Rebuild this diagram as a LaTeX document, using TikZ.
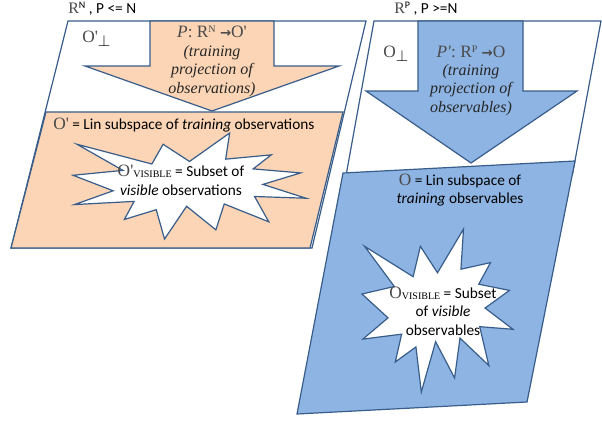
\documentclass[tikz,border=0pt]{standalone}
\usepackage{fontspec}
\setmainfont{Carlito}
\newfontfamily\tms{Liberation Serif}
\newfontfamily\tmsit{Liberation Serif Italic}
\newfontfamily\djv{DejaVu Sans}
\definecolor{peach}{HTML}{FBD5B5}
\definecolor{sky}{HTML}{8EB4E3}
\definecolor{edgeblue}{HTML}{385D8A}
\definecolor{symgray}{HTML}{4A4A4A}
\newcommand\arr{{\djv\bfseries\fontsize{10}{10}\selectfont →}}
\newcommand\supr[1]{\raisebox{3.6pt}{\fontsize{7.5}{8}\selectfont #1}}
\newcommand\vis{\raisebox{-0.8pt}{\tms\fontsize{7.5}{8}\selectfont VISIBLE}}
\newcommand\tO[1]{{\tms\color{symgray}\fontsize{13}{14}\selectfont #1}}
\newcommand\itl[1]{{\tms\itshape\fontsize{12}{13.8}\selectfont #1}}
\begin{document}
\begin{tikzpicture}[x=0.75pt,y=-0.75pt,
  shapeline/.style={draw=edgeblue,line width=0.9pt,line join=miter},
  lbl/.style={inner sep=0pt,font=\fontsize{11.5}{14}\selectfont,align=center},
  ital/.style={inner sep=0pt,font=\fontsize{12}{13.8}\selectfont,align=center,text=black!85}]
\useasboundingbox (0,0) rectangle (602,421);
% ---------- left panel ----------
\draw[shapeline,fill=white] (68,21) -- (366,21) -- (312,248) -- (11,248) -- cycle;
\draw[shapeline,fill=peach] (46,112) -- (343,112) -- (310,248) -- (11,248) -- cycle;
\draw[shapeline,fill=peach] (150,21) -- (274,21) -- (274,66) -- (339,66) -- (212,111) -- (85,66) -- (150,66) -- cycle;
\begin{scope}[shift={(73,133)},xscale=1.0787,yscale=0.4907]
\draw[shapeline,fill=white] (108,58) -- (145.22,0) -- (141.55,53.25) -- (183.80,44.57) -- (167.02,73.15) -- (210.97,81.37) -- (176.07,104.75) -- (216,132.90) -- (168.37,129.42) -- (181.45,180.95) -- (140.20,144.57) -- (132.47,197.37) -- (105.32,149.35) -- (84.85,216) -- (77.15,156.27) -- (47.62,176.17) -- (56.67,139.37) -- (1.35,145.87) -- (37.22,117.75) -- (0,86.15) -- (46.27,76.17) -- (3.70,22.95) -- (73.12,63.20) -- (83.52,22.95) -- cycle;
\end{scope}
\node[lbl,anchor=base west] (ltop) at (68,13) {{\tms\color{symgray}\fontsize{12}{12}\selectfont R}\supr{N} , P <= N};
\node[lbl,anchor=base west] (lperp) at (82,42) {\tO{O'}\raisebox{-3pt}{\large$\perp$}};
\node[inner sep=0pt,anchor=base] (lmap) at (212,37) {\tms\fontsize{13}{14}\selectfont\color{symgray}\textit{P}: R\supr{N} \arr O'};
\node[ital] (lproj) at (212,71) {\itl{(training}\\\itl{projection of}\\\itl{observations)}};
\node[lbl,anchor=base west] (lsub) at (53,129) {\tO{O'} = Lin subspace of \textit{training} observations};
\node[lbl] (lvis) at (181,180) {\tO{O'}\vis\ = Subset of\\\textit{visible} observations};
% ---------- right panel ----------
\draw[shapeline,fill=white] (374,21) -- (601,21) -- (572.5,174) -- (346.3,174) -- cycle;
\draw[shapeline,fill=sky] (343,173) -- (575,161) -- (527,402) -- (297,414) -- cycle;
\draw[shapeline,fill=sky] (418,21) -- (523,21) -- (523,91) -- (577,91) -- (471,163) -- (366,91) -- (418,91) -- cycle;
\begin{scope}[shift={(362,229)},xscale=0.699,yscale=0.7546]
\draw[shapeline,fill=white] (108,58) -- (145.22,0) -- (141.55,53.25) -- (183.80,44.57) -- (167.02,73.15) -- (210.97,81.37) -- (176.07,104.75) -- (216,132.90) -- (168.37,129.42) -- (181.45,180.95) -- (140.20,144.57) -- (132.47,197.37) -- (105.32,149.35) -- (84.85,216) -- (77.15,156.27) -- (47.62,176.17) -- (56.67,139.37) -- (1.35,145.87) -- (37.22,117.75) -- (0,86.15) -- (46.27,76.17) -- (3.70,22.95) -- (73.12,63.20) -- (83.52,22.95) -- cycle;
\end{scope}
\node[lbl,anchor=base west] (rtop) at (394,13) {{\tms\color{symgray}\fontsize{12}{12}\selectfont R}\supr{P} , P >=N};
\node[lbl,anchor=base west] (rperp) at (383,57) {\tO{O}\raisebox{-3pt}{\large$\perp$}};
\node[inner sep=0pt,anchor=base] (rmap) at (471,57) {\tms\fontsize{13}{14}\selectfont\color{symgray}\textit{P'}: R\supr{P} \arr O};
\node[ital] (rproj) at (471,90) {\itl{(training}\\\itl{projection of}\\\itl{observables)}};
\node[lbl] (rsub) at (460,190) {\tO{O} = Lin subspace of\\\textit{training} observables};
\node[lbl] (rvis) at (443,311) {\tO{O}\vis\ = Subset\\of \textit{visible}\\observables};
\end{tikzpicture}
\end{document}
